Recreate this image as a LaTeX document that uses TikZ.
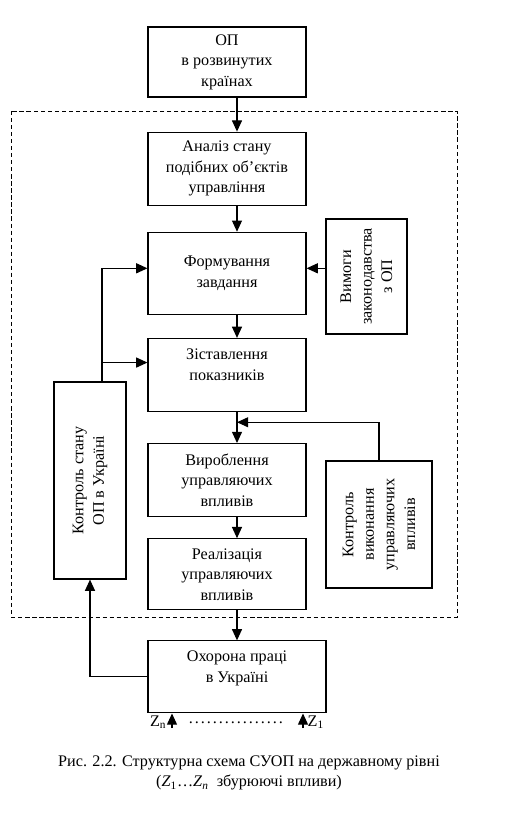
\documentclass[tikz,border=0pt]{standalone}
\usepackage{fontspec}
\setmainfont{Liberation Serif}
\usetikzlibrary{positioning, arrows.meta, calc}

\begin{document}
\begin{tikzpicture}[
        x=0.025cm, y=-0.025cm,
        font=\fontsize{11.5}{14.6}\selectfont,
        blk/.style={rectangle, draw, line width=0.8pt, minimum width=3.95cm,
                    align=center, inner sep=2pt},
        sideblk/.style={rectangle, draw, line width=0.8pt, rotate=90,
                    align=center, inner sep=2pt},
        arrow/.style={-{Triangle[length=0.28cm, width=0.25cm]}, line width=0.8pt},
        frame/.style={draw, line width=0.7pt, dash pattern=on 3pt off 2pt}
      ]
        \useasboundingbox (0,0) rectangle (523,817);

        % main column
        \node[blk, minimum height=1.75cm] (abroad) at (227,62) {ОП\\в розвинутих\\країнах};
        \node[blk, minimum height=1.825cm, below=0.85cm of abroad] (analysis) {Аналіз стану\\подібних об’єктів\\управління};
        \node[blk, minimum height=2.05cm, below=0.65cm of analysis] (task) {Формування\\завдання};
        \node[blk, minimum height=1.825cm, below=0.575cm of task] (compare) {Зіставлення\\показників\\\mbox{}};
        \node[blk, minimum height=1.825cm, below=0.775cm of compare] (develop) {Вироблення\\управляючих\\впливів};
        \node[blk, minimum height=1.775cm, below=0.525cm of develop] (realize) {Реалізація\\управляючих\\впливів};
        \node[blk, minimum width=4.45cm, minimum height=1.8cm, below=0.75cm of realize.south west, anchor=north west] (ukraine) {Охорона праці\\в Україні\\\mbox{}};

        % side blocks
        \node[sideblk, minimum width=2.875cm, minimum height=2.025cm] (law) at (366.5,276.5) {Вимоги\\законодавства\\з ОП};
        \node[sideblk, minimum width=4.925cm, minimum height=1.8cm] (monitor) at (90,480.5) {Контроль стану\\ОП в Україні};
        \node[sideblk, minimum width=3.175cm, minimum height=2.65cm] (check) at (379,524.5) {Контроль\\виконання\\управляючих\\впливів};

        % dashed boundary
        \draw[frame] (11,111) rectangle (457,617);

        % helper points
        \coordinate (axis) at (237,0);
        \coordinate (taskL) at ([yshift=0.125cm]task.west);
        \coordinate (taskR) at ([yshift=0.125cm]task.east);
        \coordinate (cmpL) at ([yshift=0.31cm]compare.west);
        \coordinate (fb) at ([xshift=0.3cm]monitor.east);
        \coordinate (join) at ($(compare.south -| axis)!0.33!(develop.north -| axis)$);
        \coordinate (zn) at (172,728);
        \coordinate (z1) at (303,728);

        \draw[arrow] (abroad.south -| axis) -- (analysis.north -| axis);
        \draw[arrow] (analysis.south -| axis) -- (task.north -| axis);
        \draw[arrow] (task.south -| axis) -- (compare.north -| axis);
        \draw[arrow] (compare.south -| axis) -- (develop.north -| axis);
        \draw[arrow] (develop.south -| axis) -- (realize.north -| axis);
        \draw[arrow] (realize.south -| axis) -- (ukraine.north -| axis);

        \draw[arrow] (law.north |- taskR) -- (taskR);
        \draw[arrow] (fb) |- (taskL);
        \draw[arrow] (fb |- cmpL) -- (cmpL);
        \draw[arrow] (check.east) |- (join);
        \draw[arrow] (ukraine.west) -| (monitor.west);

        % disturbances
        \draw[arrow] (zn) -- (zn |- ukraine.south);
        \draw[arrow] (z1) -- (z1 |- ukraine.south);
        \node[anchor=east, inner sep=1pt] (znlabel) at (168,722) {Z\textsubscript{n}};
        \node[anchor=west, inner sep=1pt] (z1label) at (306,722) {Z\textsubscript{1}};
        \node[inner sep=0pt] (dots) at (236,723) {\makebox[2.4cm]{\leaders\hbox to 0.15cm{\hss.\hss}\hfill}};

        % caption
        \node[align=center, font=\fontsize{11.5}{14.2}\selectfont] (caption) at (249,773)
          {Рис. 2.2. Структурна схема СУОП на державному рівні\\
           (\textit{Z}\textsubscript{1}…\textit{Z}\textsubscript{\textit{n}}\ \ збурюючі впливи)};
\end{tikzpicture}
\end{document}
